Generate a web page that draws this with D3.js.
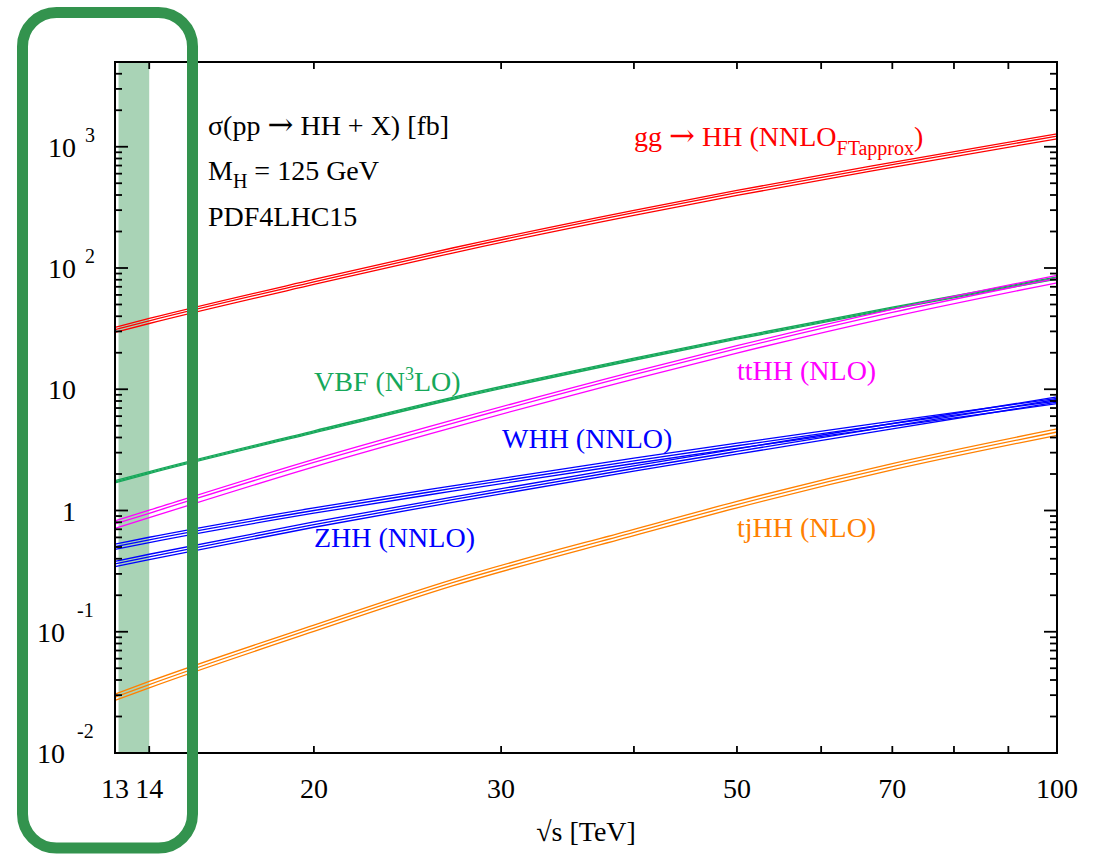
<!DOCTYPE html>
<html>
<head>
<meta charset="utf-8">
<script src="https://cdn.jsdelivr.net/npm/d3@7"></script>
<style>
  html, body { margin: 0; padding: 0; background: #fff; }
  svg { display: block; }
  text { font-family: "Liberation Serif", "Times New Roman", serif; }
  .arrow { font-family: "DejaVu Serif", serif; }
</style>
</head>
<body>
<svg id="chart" width="1100" height="854"></svg>
<script>
// sqrt(s) in TeV and cross sections in fb
var energies = [13, 14, 20, 27, 40, 50, 70, 100];
var ggHH = [31.05, 36.69, 77, 139.9, 286, 418, 711, 1224];
var vbfHH = [1.726, 2.055, 4.45, 8.40, 17.7, 26.4, 46.7, 82.8];
var ttHH = [0.775, 0.949, 2.49, 5.24, 13.2, 21.6, 43.0, 82.1];
var wHH = [0.503, 0.573, 1.00, 1.52, 2.57, 3.42, 5.20, 8.00];
var zHH = [0.363, 0.415, 0.766, 1.23, 2.22, 3.07, 4.97, 8.23];
var tjHH = [0.0289, 0.0367, 0.107, 0.254, 0.66, 1.12, 2.3, 4.44];

// relative up / down uncertainty of each band
var relUp = [0.045, 0.02, 0.06, 0.05, 0.05, 0.06];
var relDown = [0.05, 0.02, 0.08, 0.05, 0.05, 0.06];

var xTicks = [14, 20, 30, 40, 50, 60, 70, 80, 90];
var xTickLabels = [13, 14, 20, 30, 50, 70, 100];
var yDecades = [-2, -1, 0, 1, 2, 3];
var lhcBand = [13.1, 14];

var series = [ggHH, vbfHH, ttHH, wHH, zHH, tjHH];
var colors = ["#ff0000", "#16a85a", "#ff00ff", "#0000ff", "#0000ff", "#ff8000"];

(function () {
  var svg = d3.select("#chart");
  var pl = 115, pr = 1057, pt = 62, pb = 753;

  var x = d3.scaleLog().domain([13, 100]).range([pl, pr]);
  var y = d3.scaleLog().domain([0.01, 5000]).range([pb, pt]);

  // LHC energy band
  svg.append("rect")
    .attr("x", x(lhcBand[0]))
    .attr("y", pt + 1)
    .attr("width", x(lhcBand[1]) - x(lhcBand[0]))
    .attr("height", pb - pt - 1)
    .attr("fill", "#a9d3b6");

  var line = d3.line()
    .x(function (d) { return x(d[0]); })
    .y(function (d) { return y(d[1]); })
    .curve(d3.curveMonotoneX);

  series.forEach(function (vals, i) {
    var g = svg.append("g").attr("stroke", colors[i]).attr("fill", "none").attr("stroke-width", 1.3);
    [1 + relUp[i], 1, 1 - relDown[i]].forEach(function (f) {
      g.append("path")
        .attr("d", line(energies.map(function (e, j) { return [e, vals[j] * f]; })));
    });
  });

  // frame
  svg.append("rect")
    .attr("x", pl).attr("y", pt)
    .attr("width", pr - pl).attr("height", pb - pt)
    .attr("fill", "none").attr("stroke", "#000").attr("stroke-width", 2);

  var ticks = svg.append("g").attr("stroke", "#000").attr("stroke-width", 1.8);

  xTicks.forEach(function (t) {
    ticks.append("line").attr("x1", x(t)).attr("x2", x(t)).attr("y1", pb).attr("y2", pb - 7);
    ticks.append("line").attr("x1", x(t)).attr("x2", x(t)).attr("y1", pt).attr("y2", pt + 7);
  });

  yDecades.forEach(function (k) {
    for (var m = 1; m <= 9; m++) {
      var v = m * Math.pow(10, k);
      if (v >= 5000) { continue; }
      var len = m === 1 ? 13 : 7;
      ticks.append("line").attr("x1", pl).attr("x2", pl + len).attr("y1", y(v)).attr("y2", y(v));
      ticks.append("line").attr("x1", pr).attr("x2", pr - len).attr("y1", y(v)).attr("y2", y(v));
    }
  });

  // x tick labels
  svg.append("g").selectAll("text")
    .data(xTickLabels)
    .enter().append("text")
    .attr("x", function (d) { return x(d); })
    .attr("y", 798)
    .attr("text-anchor", "middle")
    .attr("font-size", 28)
    .text(function (d) { return d; });

  // y tick labels
  yDecades.forEach(function (k) {
    var ty = y(Math.pow(10, k));
    if (k === 0 || k === 1) {
      svg.append("text").attr("x", 76).attr("y", ty + 10).attr("text-anchor", "end")
        .attr("font-size", 28).text(k === 0 ? "1" : "10");
      return;
    }
    var neg = k < 0;
    svg.append("text").attr("x", neg ? 65 : 76).attr("y", ty + 10).attr("text-anchor", "end")
      .attr("font-size", 28).text("10");
    svg.append("text").attr("x", neg ? 77 : 85).attr("y", neg ? ty - 15 : ty - 5)
      .attr("font-size", 20).text(String(k));
  });

  svg.append("text").attr("x", 586).attr("y", 841).attr("text-anchor", "middle")
    .attr("font-size", 28).text("√s [TeV]");

  // header
  var sig = svg.append("text").attr("x", 208).attr("y", 135).attr("font-size", 28);
  sig.append("tspan").text("σ(pp ");
  sig.append("tspan").attr("class", "arrow").attr("font-size", 31).text("→");
  sig.append("tspan").text(" HH + X) [fb]");
  var mh = svg.append("text").attr("x", 208).attr("y", 180).attr("font-size", 28);
  mh.append("tspan").text("M");
  mh.append("tspan").attr("font-size", 20).attr("dy", 8).text("H");
  mh.append("tspan").attr("dy", -8).text(" = 125 GeV");
  svg.append("text").attr("x", 208).attr("y", 226).attr("font-size", 28).text("PDF4LHC15");

  // process labels
  var gg = svg.append("text").attr("x", 634).attr("y", 146).attr("font-size", 28).attr("fill", colors[0]);
  gg.append("tspan").text("gg ");
  gg.append("tspan").attr("class", "arrow").attr("font-size", 31).text("→");
  gg.append("tspan").text(" HH (NNLO");
  gg.append("tspan").attr("font-size", 20).attr("dy", 9).text("FTapprox");
  gg.append("tspan").attr("dy", -9).text(")");

  var vbf = svg.append("text").attr("x", 314).attr("y", 391).attr("font-size", 28).attr("fill", colors[1]);
  vbf.append("tspan").text("VBF (N");
  vbf.append("tspan").attr("font-size", 18).attr("dy", -11).text("3");
  vbf.append("tspan").attr("dy", 11).text("LO)");

  svg.append("text").attr("x", 737).attr("y", 380).attr("font-size", 28).attr("fill", colors[2]).text("ttHH (NLO)");
  svg.append("text").attr("x", 502).attr("y", 448).attr("font-size", 28).attr("fill", colors[3]).text("WHH (NNLO)");
  svg.append("text").attr("x", 314).attr("y", 547).attr("font-size", 28).attr("fill", colors[4]).text("ZHH (NNLO)");
  svg.append("text").attr("x", 737).attr("y", 537).attr("font-size", 28).attr("fill", colors[5]).text("tjHH (NLO)");

  // highlight box round the LHC energies
  svg.append("rect")
    .attr("x", 22.5).attr("y", 12.5)
    .attr("width", 170).attr("height", 835.5)
    .attr("rx", 34).attr("ry", 34)
    .attr("fill", "none").attr("stroke", "#33934e").attr("stroke-width", 11);
})();
</script>
</body>
</html>
